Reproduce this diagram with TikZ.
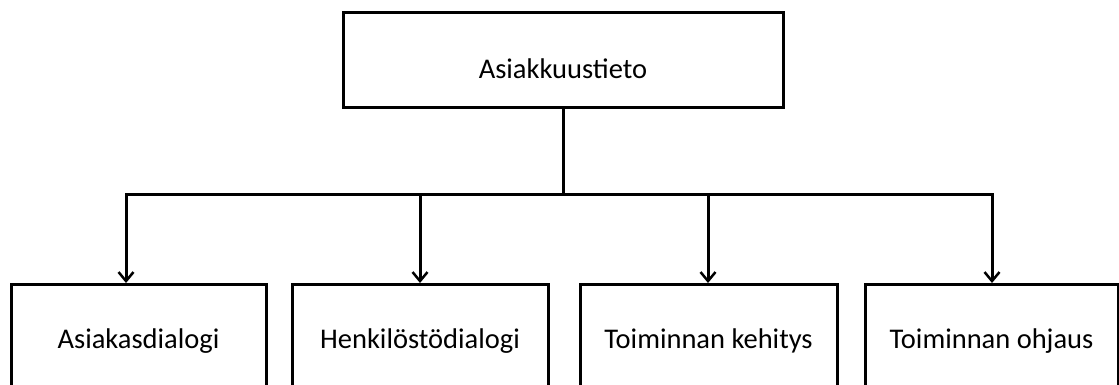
\documentclass[tikz,border=0pt]{standalone}
\usepackage{fontspec}
\setmainfont{Carlito}
\usetikzlibrary{arrows.meta,calc}
\begin{document}
\begin{tikzpicture}[x=1pt,y=-1pt,
  box/.style={draw=black,line width=3pt,fill=white,inner sep=0pt},
  lbl/.style={font=\fontsize{28.5}{34}\selectfont,inner sep=0pt,text=black,
    text height=21.4pt,text depth=7.1pt},
  conn/.style={draw=black,line width=3pt},
  arr/.style={conn,-{Straight Barb[length=9pt,width=15pt,line width=2.5pt]}}]
\useasboundingbox[fill=white] (0,0) rectangle (1119,385);
\clip (0,0) rectangle (1119,385);
% top box
\node[box,minimum width=440,minimum height=95,
  label={[lbl,yshift=-11pt]center:Asiakkuustieto}] (top) at (563,60.5) {};
% bottom boxes (cut off by the page bottom)
\node[box,minimum width=255,minimum height=130,anchor=north,
  label={[lbl,yshift=8pt]center:Asiakasdialogi}] (b1) at (138.5,283) {};
\node[box,minimum width=256,minimum height=130,anchor=north,
  label={[lbl,yshift=8pt]center:Henkilöstödialogi}] (b2) at (420,283) {};
\node[box,minimum width=257,minimum height=130,anchor=north,
  label={[lbl,yshift=8pt]center:Toiminnan kehitys}] (b3) at (708.5,283) {};
\node[box,minimum width=253,minimum height=130,anchor=north,
  label={[lbl,yshift=8pt]center:Toiminnan ohjaus}] (b4) at (991.5,283) {};
% connectors
\coordinate (j) at (563,194);
\coordinate (t1) at (126,283);
\coordinate (t4) at (992,283);
\draw[conn] (top.south) -- (j);
\draw[arr] (j) -| (t1);
\draw[arr] (j) -| (t4);
\draw[arr] (b2.north |- j) -- (b2.north);
\draw[arr] ($(b3.north |- j)+(-0.5,0)$) -- ($(b3.north)+(-0.5,0)$);
\end{tikzpicture}
\end{document}
